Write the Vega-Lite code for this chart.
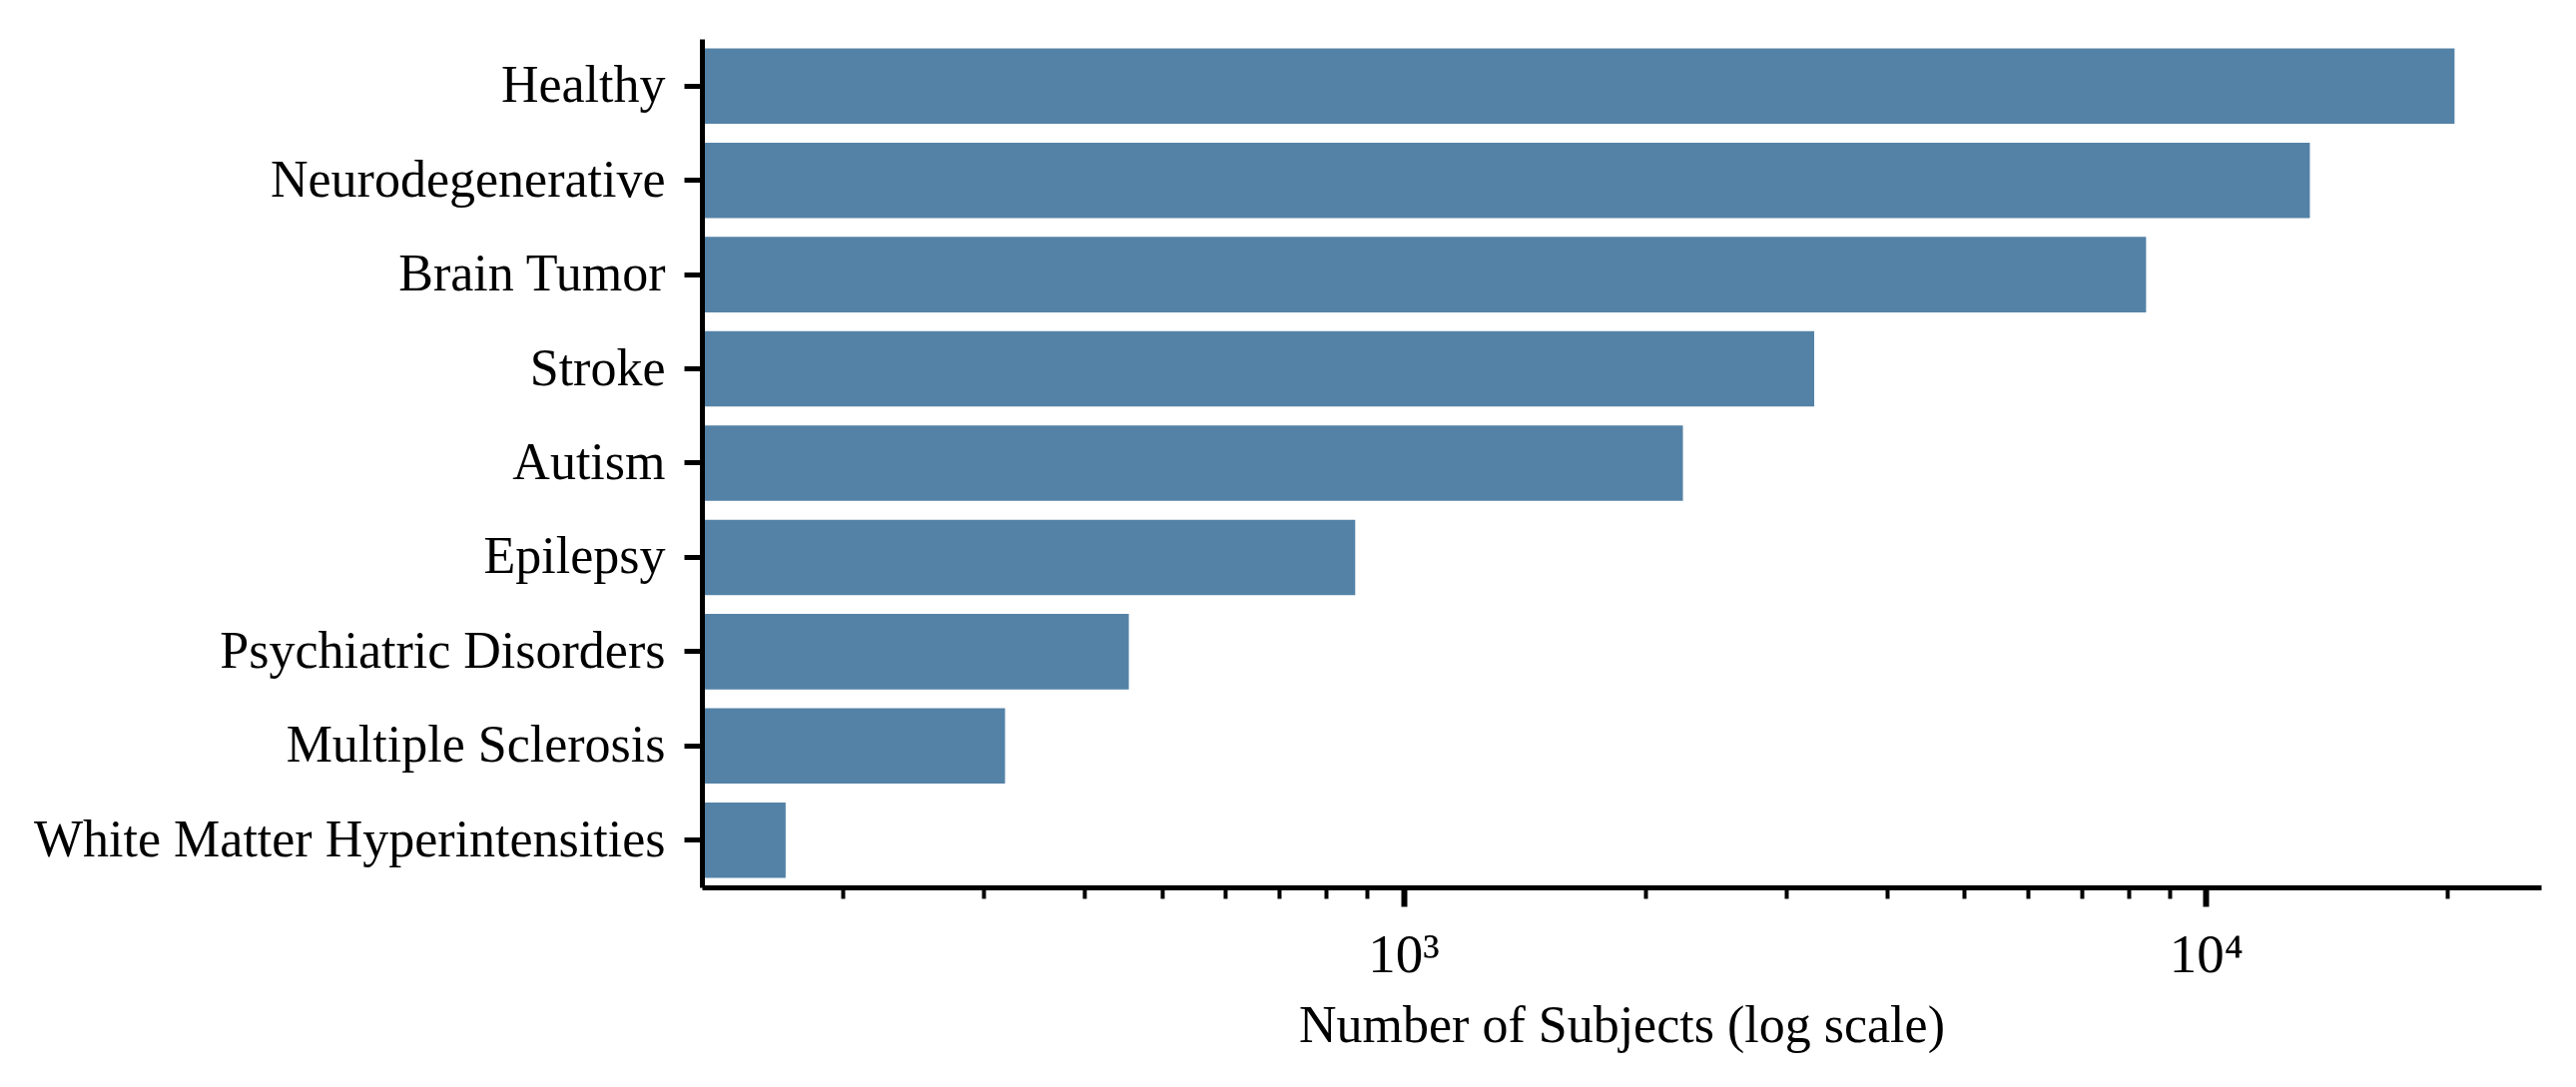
{
  "$schema": "https://vega.github.io/schema/vega-lite/v6.json",
  "width": 1842,
  "height": 850,
  "autosize": {"type": "none"},
  "padding": {"left": 703, "top": 39, "right": 35, "bottom": 200},
  "background": "white",
  "config": {"view": {"stroke": null}, "font": "Liberation Serif"},
  "data": {
    "values": [
      {"category": "Healthy", "subjects": 20400},
      {"category": "Neurodegenerative", "subjects": 13470},
      {"category": "Brain Tumor", "subjects": 8420},
      {"category": "Stroke", "subjects": 3250},
      {"category": "Autism", "subjects": 2230},
      {"category": "Epilepsy", "subjects": 871},
      {"category": "Psychiatric Disorders", "subjects": 455},
      {"category": "Multiple Sclerosis", "subjects": 319},
      {"category": "White Matter Hyperintensities", "subjects": 170}
    ]
  },
  "mark": {"type": "bar", "color": "#5482a6"},
  "encoding": {
    "y": {
      "field": "category",
      "type": "nominal",
      "sort": null,
      "scale": {"paddingInner": 0.2, "paddingOuter": 0.1},
      "axis": {
        "title": null,
        "labelFont": "Liberation Serif",
        "labelFontSize": 52,
        "labelColor": "black",
        "labelLimit": 1000,
        "tickSize": 18,
        "tickWidth": 5,
        "tickColor": "black",
        "domainColor": "black",
        "domainWidth": 5,
        "labelPadding": 19,
        "grid": false,
        "zindex": 1
      }
    },
    "x": {
      "field": "subjects",
      "type": "quantitative",
      "scale": {"type": "log", "domain": [133.7, 26145], "nice": false},
      "axis": {
        "title": "Number of Subjects (log scale)",
        "titleFont": "Liberation Serif",
        "titleFontSize": 52,
        "titleFontWeight": "normal",
        "titleColor": "black",
        "titlePadding": 18,
        "values": [200, 300, 400, 500, 600, 700, 800, 900, 1000, 2000, 3000, 4000, 5000, 6000, 7000, 8000, 9000, 10000, 20000],
        "labelExpr": "datum.value == 1000 ? '10³' : datum.value == 10000 ? '10⁴' : ''",
        "labelFont": "Liberation Serif",
        "labelFontSize": 55,
        "labelColor": "black",
        "labelPadding": 22,
        "labelFlush": false,
        "labelOverlap": false,
        "tickSize": {"condition": {"test": "datum.value == 1000 || datum.value == 10000", "value": 19}, "value": 11},
        "tickWidth": {"condition": {"test": "datum.value == 1000 || datum.value == 10000", "value": 6}, "value": 4},
        "tickColor": "black",
        "domainColor": "black",
        "domainWidth": 5,
        "grid": false,
        "zindex": 1
      }
    },
    "x2": {"datum": 133.7}
  }
}
